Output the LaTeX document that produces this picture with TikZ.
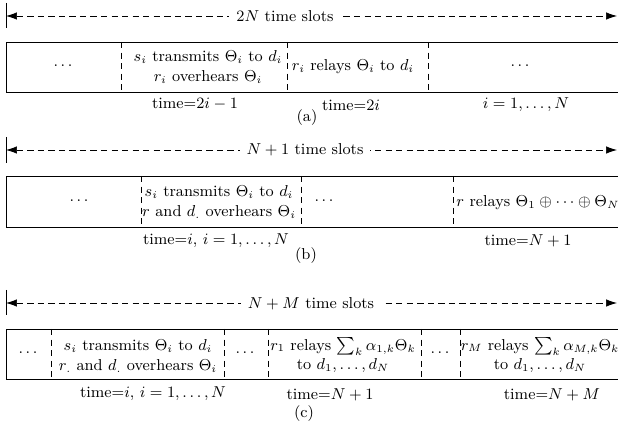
\documentclass[tikz,border=0pt]{standalone}
\usetikzlibrary{arrows.meta}
\begin{document}
\begin{tikzpicture}[x=0.02cm, y=-0.02cm, >={Latex[length=2.2mm,width=1.5mm]}, font=\fontsize{9}{11}\selectfont, span/.style={<->, dash pattern=on 3.6pt off 2.4pt}, spanlbl/.style={fill=white, inner sep=4pt}, sep/.style={dash pattern=on 3.6pt off 2.4pt}, cell/.style={align=center, inner sep=0pt}, tlbl/.style={inner sep=0pt}]
\useasboundingbox (0,0) rectangle (618,431);
% (a)
\draw (6,3) -- (6,28);
\coordinate (a0) at (6,16);
\coordinate (a1) at (617,16);
\draw[span] (a0) -- (a1);
\node[spanlbl] (atitle) at (285,16) {$2N$ time slots};
\draw (618,42) -- (6,42) -- (6,92) -- (618,92);
\draw[sep] (121,42) -- (121,92);
\draw[sep] (287,42) -- (287,92);
\draw[sep] (428,42) -- (428,92);
\node[cell] (a-c1) at (63,66) {$\ldots$};
\node[cell] (a-c2) at (208,67) {$s_i$ transmits $\Theta_i$ to $d_i$\\ $r_i$ overhears $\Theta_i$};
\node[cell] (a-c3) at (353,67) {$r_i$ relays $\Theta_i$ to $d_i$};
\node[cell] (a-c4) at (520,66) {$\ldots$};
\node[tlbl] (a-t1) at (195,104) {time=$2i-1$};
\node[tlbl] (a-t2) at (351,105) {time=$2i$};
\node[tlbl] (a-t3) at (526,105) {$i=1,\ldots,N$};
\node[tlbl] (a-cap) at (307,118) {(a)};
% (b)
\draw (6,137) -- (6,163);
\coordinate (b0) at (6,150);
\coordinate (b1) at (617,150);
\draw[span] (b0) -- (b1);
\node[spanlbl] (btitle) at (305,150) {$N+1$ time slots};
\draw (618,176) -- (6,176) -- (6,227) -- (618,227);
\draw[sep] (141,176) -- (141,227);
\draw[sep] (301,176) -- (301,227);
\draw[sep] (453,176) -- (453,227);
\node[cell] (b-c1) at (79,201) {$\ldots$};
\node[cell] (b-c2) at (219,202) {$s_i$ transmits $\Theta_i$ to $d_i$\\ $r$ and $d_{.}$ overhears $\Theta_i$};
\node[cell] (b-c3) at (324,201) {$\ldots$};
\node[cell, anchor=west] (b-c4) at (456,203) {$r$ relays $\Theta_1\oplus\cdots\oplus\Theta_N$};
\node[tlbl] (b-t1) at (216,241) {time=$i$, $i=1,\ldots,N$};
\node[tlbl] (b-t2) at (528,241) {time=$N+1$};
\node[tlbl] (b-cap) at (306,256) {(b)};
% (c)
\draw (6,290) -- (6,315);
\coordinate (c0) at (6,303);
\coordinate (c1) at (617,303);
\draw[span] (c0) -- (c1);
\node[spanlbl] (ctitle) at (311,304) {$N+M$ time slots};
\draw (618,329) -- (6,329) -- (6,379) -- (618,379);
\draw[sep] (51,329) -- (51,379);
\draw[sep] (224,329) -- (224,379);
\draw[sep] (268,329) -- (268,379);
\draw[sep] (421,329) -- (421,379);
\draw[sep] (460,329) -- (460,379);
\node[cell] (c-c1) at (28,353) {$\ldots$};
\node[cell] (c-c2) at (138,356) {$s_i$ transmits $\Theta_i$ to $d_i$\\ $r_{.}$ and $d_{.}$ overhears $\Theta_i$};
\node[cell] (c-c3) at (245,353) {$\ldots$};
\node[cell] (c-c4) at (343,355) {$r_1$ relays $\sum_k\alpha_{1,k}\Theta_k$\\ to $d_1,\ldots,d_N$};
\node[cell] (c-c5) at (440,353) {$\ldots$};
\node[cell] (c-c6) at (540,355) {$r_M$ relays $\sum_k\alpha_{M,k}\Theta_k$\\ to $d_1,\ldots,d_N$};
\node[tlbl] (c-t1) at (153,394) {time=$i$, $i=1,\ldots,N$};
\node[tlbl] (c-t2) at (330,395) {time=$N+1$};
\node[tlbl] (c-t3) at (552,395) {time=$N+M$};
\node[tlbl] (c-cap) at (304,414) {(c)};
\end{tikzpicture}
\end{document}
